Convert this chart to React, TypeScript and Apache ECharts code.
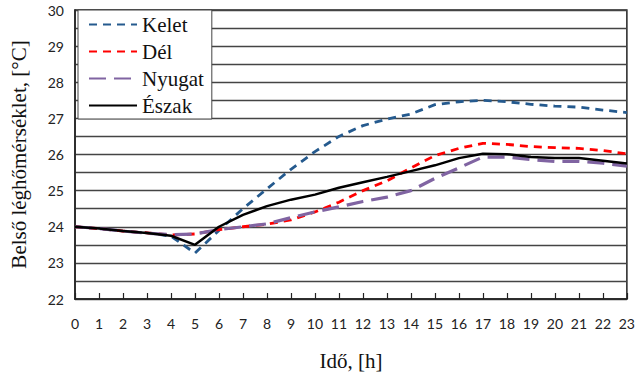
import React, { useEffect, useRef } from "react";
import * as echarts from "echarts";

const hours = Array.from({ length: 24 }, (_, i) => String(i));
const kelet = [24.0, 23.95, 23.88, 23.83, 23.74, 23.27, 23.9, 24.5, 25.05, 25.59, 26.08, 26.5, 26.8, 26.98, 27.12, 27.38, 27.46, 27.5, 27.46, 27.39, 27.34, 27.31, 27.23, 27.16];
const del = [24.0, 23.95, 23.88, 23.83, 23.77, 23.8, 23.92, 24.0, 24.07, 24.19, 24.41, 24.68, 25.0, 25.27, 25.63, 25.97, 26.17, 26.31, 26.28, 26.22, 26.19, 26.17, 26.11, 26.02];
const nyugat = [24.0, 23.95, 23.88, 23.82, 23.78, 23.8, 23.92, 24.0, 24.08, 24.25, 24.41, 24.55, 24.7, 24.82, 25.0, 25.34, 25.63, 25.93, 25.93, 25.86, 25.81, 25.81, 25.76, 25.68];
const eszak = [24.0, 23.95, 23.88, 23.83, 23.75, 23.5, 24.0, 24.33, 24.57, 24.75, 24.89, 25.08, 25.23, 25.38, 25.54, 25.7, 25.9, 26.02, 26.01, 25.93, 25.9, 25.9, 25.83, 25.75];
const seriesNames = ["Kelet", "Dél", "Nyugat", "Észak"];

export default function App() {
  const ref = useRef<HTMLDivElement>(null);
  useEffect(() => {
    const chart = echarts.init(ref.current!, null, { renderer: "svg" });
    const serif = "'Liberation Serif', 'Times New Roman', serif";
    const sans = "Lato, 'Open Sans', sans-serif";
    chart.setOption({
      animation: false,
      grid: {
        left: 74,
        right: 10,
        top: 10,
        bottom: 70,
        show: true,
        borderColor: "#222",
        borderWidth: 1.5,
      },
      legend: {
        orient: "vertical",
        left: 78,
        top: 10,
        padding: [4, 8, 3, 10],
        itemGap: 6,
        itemWidth: 48,
        itemHeight: 14,
        backgroundColor: "#fff",
        borderColor: "#444",
        borderWidth: 1,
        data: seriesNames,
        itemStyle: { opacity: 0 },
        textStyle: { fontFamily: serif, fontSize: 21, lineHeight: 21, color: "#111" },
      },
      xAxis: {
        type: "category",
        data: hours,
        boundaryGap: false,
        axisLine: { lineStyle: { color: "#222", width: 1.5 } },
        axisTick: { inside: true, length: 6, lineStyle: { color: "#222", width: 1.2 } },
        axisLabel: { fontFamily: sans, fontSize: 14, color: "#222", margin: 17 },
        name: "Idő, [h]",
        nameLocation: "middle",
        nameGap: 51,
        nameTextStyle: { fontFamily: serif, fontSize: 21, color: "#111" },
      },
      yAxis: {
        type: "value",
        min: 22,
        max: 30,
        interval: 0.5,
        axisLine: { show: true, lineStyle: { color: "#222", width: 1.5 } },
        axisTick: { show: false },
        splitLine: { lineStyle: { color: "#444", width: 1.3 } },
        axisLabel: {
          fontFamily: sans,
          fontSize: 14,
          color: "#222",
          margin: 11,
          formatter: (v: number) => (Number.isInteger(v) ? String(v) : ""),
        },
        name: "Belső léghőmérséklet, [°C]",
        nameLocation: "middle",
        nameRotate: 90,
        nameGap: 46,
        nameTextStyle: { fontFamily: serif, fontSize: 21, color: "#111" },
      },
      series: [
        {
          name: "Kelet",
          type: "line",
          data: kelet,
          symbol: "none",
          z: 2,
          lineStyle: { color: "#255A8E", width: 2.8, type: [8, 6] },
          itemStyle: { color: "#255A8E" },
        },
        {
          name: "Dél",
          type: "line",
          data: del,
          symbol: "none",
          z: 3,
          lineStyle: { color: "#FF0000", width: 2.8, type: [8, 6] },
          itemStyle: { color: "#FF0000" },
        },
        {
          name: "Nyugat",
          type: "line",
          data: nyugat,
          symbol: "none",
          z: 4,
          lineStyle: { color: "#8064A2", width: 3.2, type: [17, 8] },
          itemStyle: { color: "#8064A2" },
        },
        {
          name: "Észak",
          type: "line",
          data: eszak,
          symbol: "none",
          z: 5,
          lineStyle: { color: "#000", width: 2.5 },
          itemStyle: { color: "#000" },
        },
      ],
    });
    return () => chart.dispose();
  }, []);
  return <div ref={ref} style={{ width: 638, height: 376, position: "absolute", left: 0, top: 0 }} />;
}
